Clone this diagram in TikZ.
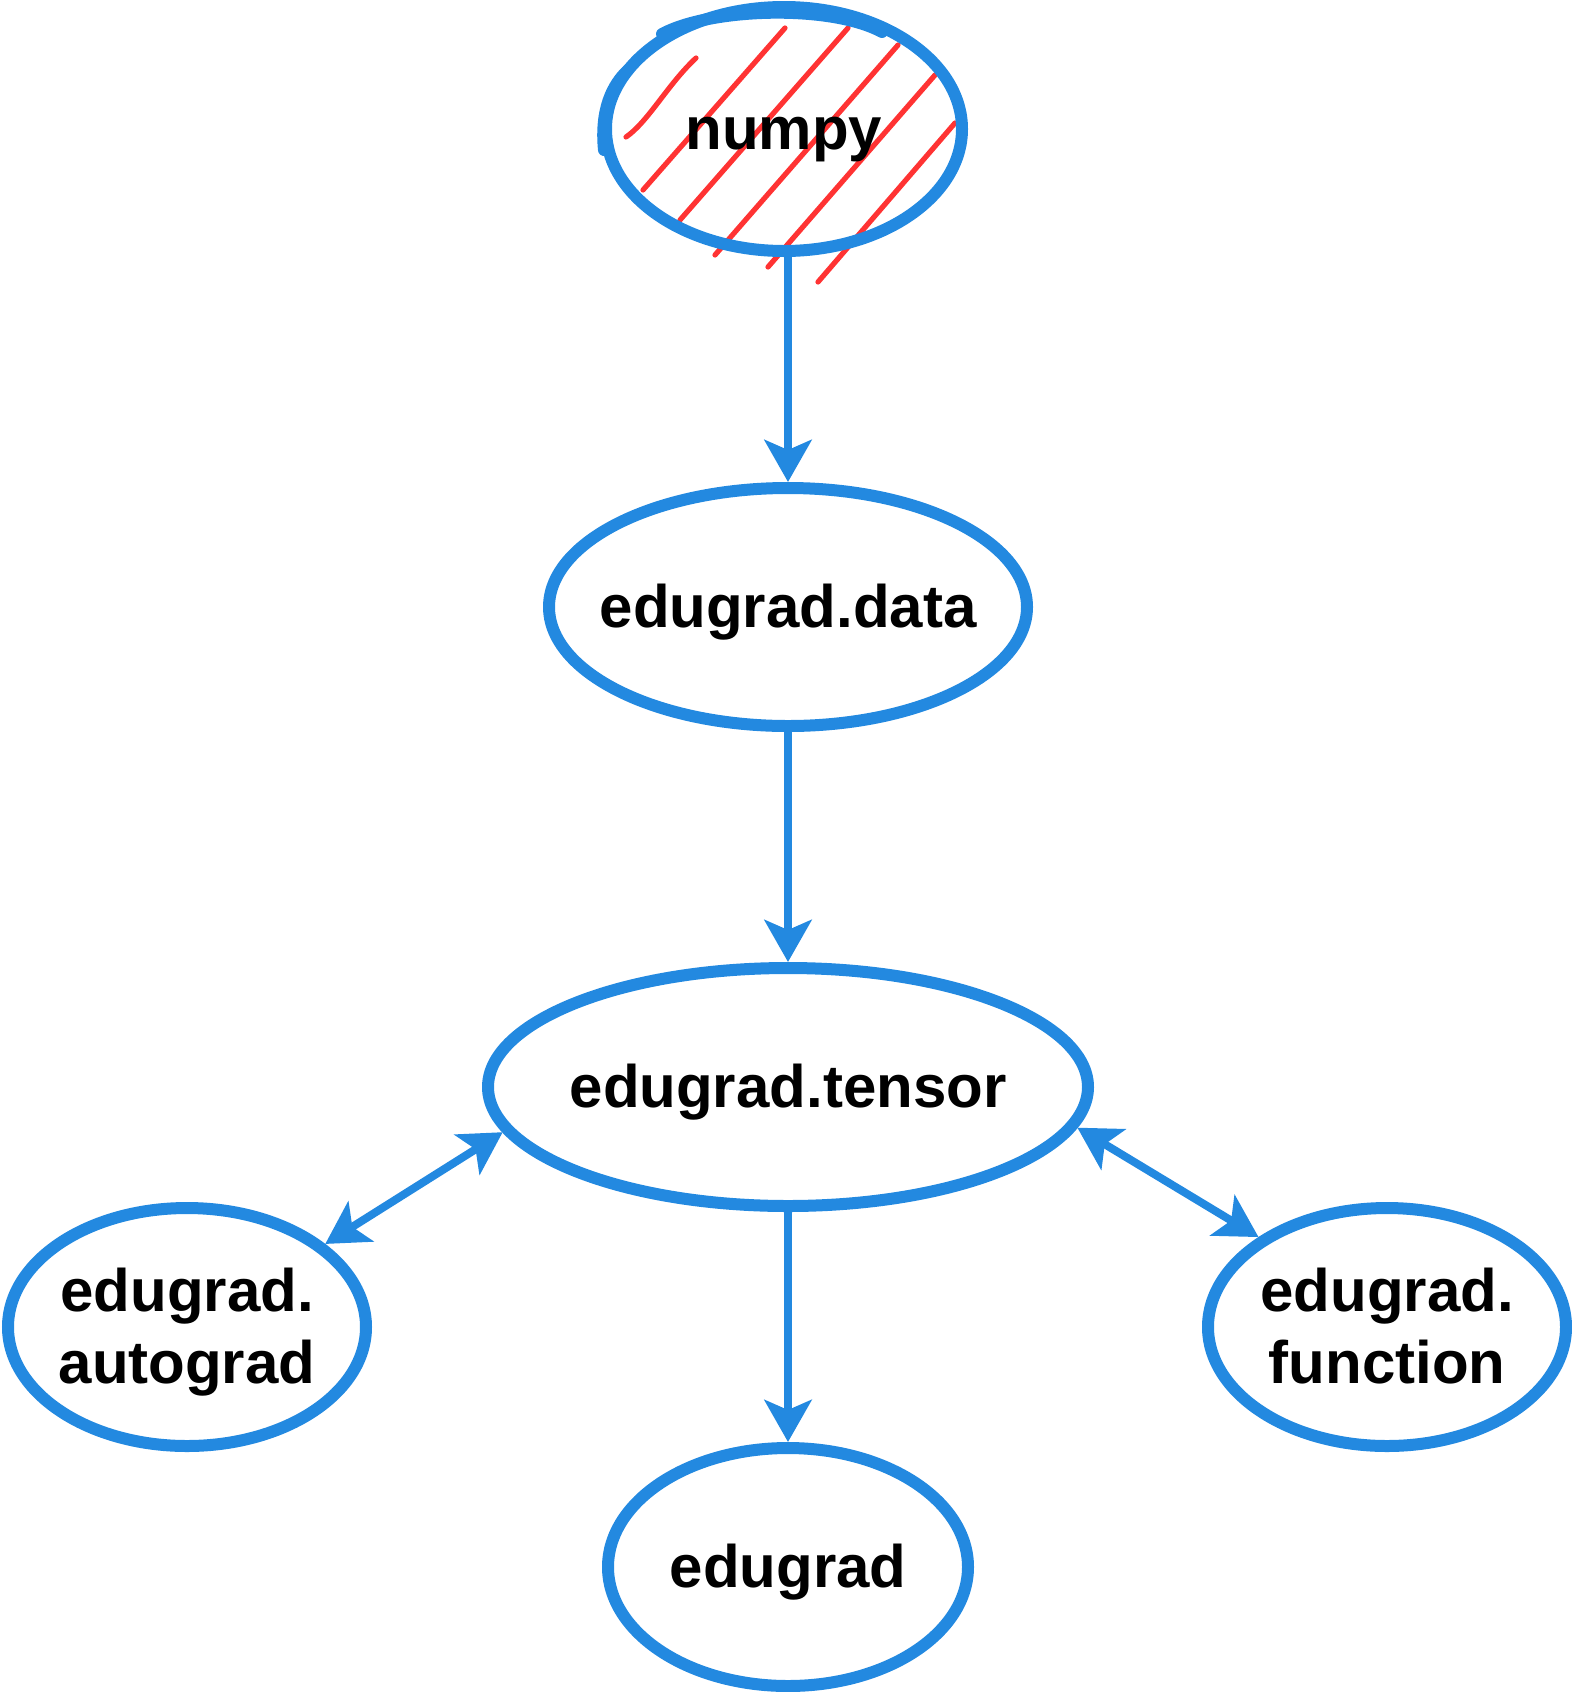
\documentclass[tikz,border=0pt]{standalone}
\usepackage{fontspec}
\setmainfont{Liberation Sans}
\usetikzlibrary{shapes.geometric,arrows.meta}
\definecolor{mblue}{RGB}{35,137,224}
\definecolor{mred}{RGB}{255,51,51}
\newcommand{\tstrut}{\rule[-6.4pt]{0pt}{33.6pt}}
\begin{document}
\begin{tikzpicture}[x=0.5pt,y=-0.5pt,
  mod/.style={ellipse, draw=mblue, line width=6pt, inner sep=0pt, minimum height=119pt, fill=white},
  ghost/.style={ellipse, inner sep=0pt, outer sep=3pt},
  lbl/.style={font=\bfseries\fontsize{30}{36}\selectfont, align=center, text=black, inner sep=0pt},
  conn/.style={draw=mblue, line width=4pt},
  sketchline/.style={draw=mblue, line width=6pt, line cap=round},
  hatch/.style={draw=mred, line width=2.6pt, line cap=round},
  >={Stealth[length=21pt,width=23.5pt,inset=5pt]}]
\useasboundingbox (0,0) rectangle (1572,1692);

% numpy (sketch style)
\node[ghost, minimum width=178pt, minimum height=122pt] (numpy) at (784,129) {};
\draw[hatch] (626,137) .. controls (648,122) and (668,84) .. (696,58);
\draw[hatch] (643,190) -- (785,28);
\draw[hatch] (680,220) -- (848,28);
\draw[hatch] (715,255) -- (898,45);
\draw[hatch] (768,267) -- (935,75);
\draw[hatch] (818,282) -- (955,123);
\draw[sketchline] (numpy.center) ellipse [x radius=89pt, y radius=61pt];
\draw[sketchline] (604,150) .. controls (600,110) and (612,85) .. (628,70);
\draw[sketchline] (662,34) .. controls (710,8) and (830,4) .. (882,32);
\node[lbl] (numpyT) at (numpy.center) {\tstrut numpy};

% modules
\node[mod, minimum width=239pt] (data) at (788,607) {};
\node[mod, minimum width=300pt] (tensor) at (788,1087) {};
\node[mod, minimum width=180pt] (edugrad) at (788,1567) {};
\node[mod, minimum width=179pt] (autograd) at (187,1327) {};
\node[mod, minimum width=179pt] (function) at (1387,1327) {};

\node[lbl] (dataT) at (data.center) {\tstrut edugrad.data};
\node[lbl] (tensorT) at (tensor.center) {\tstrut edugrad.tensor};
\node[lbl] (edugradT) at (edugrad.center) {\tstrut edugrad};
\node[lbl] (autogradT) at (autograd.center) {\tstrut edugrad.\\\tstrut autograd};
\node[lbl] (functionT) at (function.center) {\tstrut edugrad.\\\tstrut function};

% connectors
\draw[conn,->] (numpy.south -| data.north) -- (data.north);
\draw[conn,->] (data.south) -- (tensor.north);
\draw[conn,->] (tensor.south) -- (edugrad.north);
\draw[conn,<->] (tensor.189.1) -- (autograd.31.5);
\draw[conn,<->] (tensor.352.8) -- (function.145.9);
\end{tikzpicture}
\end{document}
